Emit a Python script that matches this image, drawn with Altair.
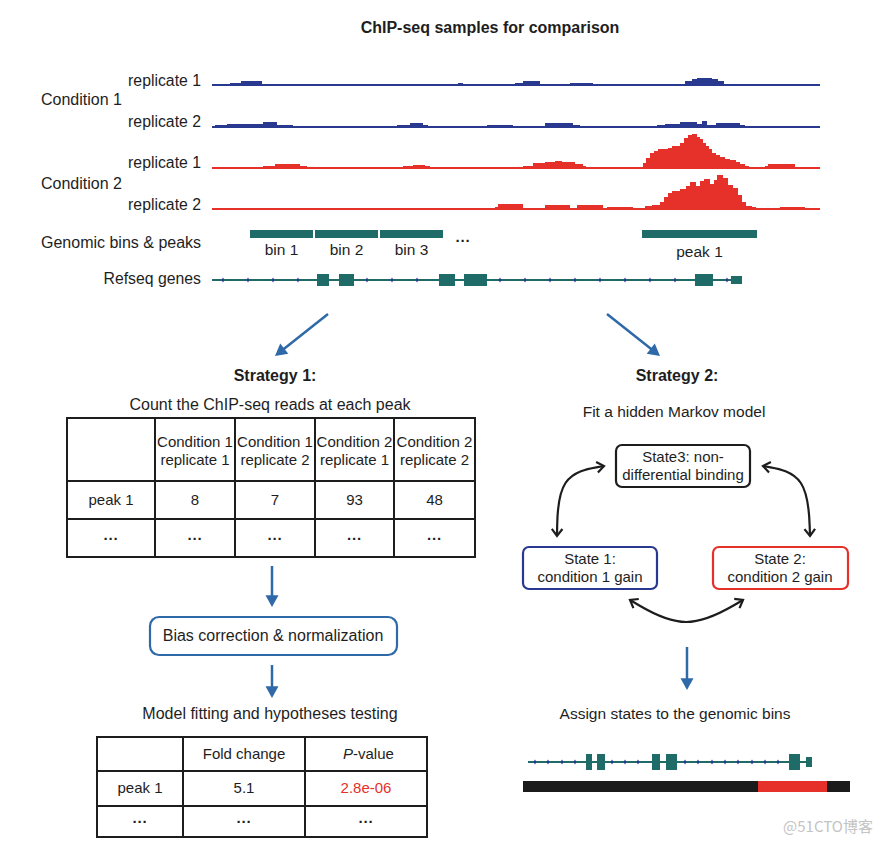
import math
import altair as alt
import pandas as pd

# ----------------------------- data -----------------------------
title_text = "ChIP-seq samples for comparison"
track_labels = ["replicate 1", "replicate 2", "replicate 1", "replicate 2"]
condition_labels = ["Condition 1", "Condition 2"]

# coverage steps: (start, end, height) along the genome (pixel-like units)
cov_c1_r1 = [(230, 241, 1), (241, 262, 3), (458, 463, 1), (515, 523, 1), (523, 540, 3),
             (570, 593, 1), (685, 692, 3), (692, 697, 5), (697, 712, 6), (712, 718, 5),
             (718, 724, 3)]
cov_c1_r2 = [(215, 227, 1), (227, 263, 2), (263, 277, 4), (277, 293, 1), (397, 410, 1),
             (410, 423, 3), (423, 428, 1), (487, 513, 1), (545, 573, 3), (573, 580, 1),
             (657, 665, 1), (665, 680, 2), (680, 697, 4), (697, 702, 2), (702, 707, 5),
             (707, 716, 1), (716, 740, 3), (740, 745, 1)]
cov_c2_r1 = [(263, 275, 1), (275, 300, 3), (300, 307, 1), (403, 413, 1), (413, 425, 2),
             (425, 430, 1), (523, 533, 1), (533, 545, 4), (545, 555, 5), (555, 562, 6),
             (562, 575, 5), (575, 583, 3), (583, 586, 1),
             (643, 646, 4), (646, 650, 9), (650, 654, 14), (654, 658, 16), (658, 668, 18),
             (668, 672, 19), (672, 680, 21), (680, 684, 24), (684, 688, 29), (688, 692, 32),
             (692, 697, 33), (697, 700, 30), (700, 703, 28), (703, 706, 24), (706, 709, 21),
             (709, 712, 18), (712, 716, 14), (716, 720, 12), (720, 725, 10), (725, 730, 8),
             (730, 736, 7), (736, 740, 5), (740, 745, 3), (745, 749, 1), (765, 768, 1),
             (768, 795, 3)]
cov_c2_r2 = [(495, 498, 1), (498, 523, 4), (545, 570, 3), (577, 603, 3), (607, 633, 1),
             (645, 652, 2), (652, 660, 3), (660, 664, 6), (664, 668, 11), (668, 672, 15),
             (672, 680, 17), (680, 686, 19), (686, 690, 22), (690, 696, 26), (696, 700, 22),
             (700, 704, 27), (704, 710, 29), (710, 714, 24), (714, 717, 28), (717, 723, 33),
             (723, 728, 30), (728, 733, 23), (733, 738, 20), (738, 742, 13), (742, 746, 6),
             (746, 752, 2), (752, 756, 1), (780, 805, 1)]
coverage = [cov_c1_r1, cov_c1_r2, cov_c2_r1, cov_c2_r2]

bin_labels = ["bin 1", "bin 2", "bin 3"]
bin_start = [250, 315, 380]
bin_end = [313, 378, 443]
peak_label = "peak 1"
peak_start, peak_end = 642, 757

gene_exon_start = [317, 339, 439, 464, 695]
gene_exon_end = [329, 354, 455, 487, 713]
gene_tick = [223, 248, 273, 298, 367, 392, 417, 500, 525, 550, 575, 600, 625, 650, 675, 727]
gene_from, gene_to = 212, 742
gene_utr = (731, 742)

count_columns = ["Condition 1\nreplicate 1", "Condition 1\nreplicate 2",
                 "Condition 2\nreplicate 1", "Condition 2\nreplicate 2"]
count_row_label = "peak 1"
count_values = [8, 7, 93, 48]

test_columns = ["Fold change", "P-value"]
fold_change = "5.1"
p_value = "2.8e-06"

hmm_states = ["State3: non-\ndifferential binding", "State 1:\ncondition 1 gain",
              "State 2:\ncondition 2 gain"]

state_gene_exon_start = [586, 597, 652, 666, 789]
state_gene_exon_end = [592, 605, 660, 677, 800]
state_gene_tick = [535, 548, 562, 575, 612, 625, 638, 685, 698, 712, 725, 738, 752, 765, 778]
state_gene_from, state_gene_to = 528, 812
state_seg_start = [523, 758, 827]
state_seg_end = [758, 827, 850]
state_seg_state = ["other", "gain2", "other"]

ELL = "\u00b7\u00b7\u00b7"

# ----------------------------- style -----------------------------
NAVY = "#2a3990"
RED = "#e6302a"
TEAL = "#1e6b67"
BLUE = "#2f69a8"
BLACK = "#1d1d1d"
TXT = "#1e1e1e"
FONT = "Liberation Sans"

W, H = 871, 830
XS = alt.Scale(domain=[8, 8 + W], nice=False, zero=False)
YS = alt.Scale(domain=[8, 8 + H], nice=False, zero=False, reverse=True)


def ex(f="x"):
    return alt.X(f"{f}:Q", scale=XS, axis=None)


def ey(f="y"):
    return alt.Y(f"{f}:Q", scale=YS, axis=None)


rects, rules, texts = [], [], []


def rect(x, x2, y, y2, c):
    rects.append(dict(x=x, x2=x2, y=y, y2=y2, c=c))


def rule(x, y, x2, y2, c, w):
    rules.append(dict(x=x, y=y, x2=x2, y2=y2, c=c, w=w))


# --- tracks ---
bases = [85, 127, 168, 209]
colors = [NAVY, NAVY, RED, RED]
for base, col, cov in zip(bases, colors, coverage):
    rule(212, base, 820, base, col, 2)
    for s, e, h in cov:
        rect(s, e, base - 1 - h, base, col)

for s, e in zip(bin_start, bin_end):
    rect(s, e, 230, 238, TEAL)
rect(peak_start, peak_end, 230, 238, TEAL)

# gene model top
rule(gene_from, 280, gene_to, 280, TEAL, 2)
for s, e in zip(gene_exon_start, gene_exon_end):
    rect(s, e, 274, 286, TEAL)
rect(gene_utr[0], gene_utr[1], 276, 284, TEAL)

# gene model bottom + states
rule(state_gene_from, 762, state_gene_to, 762, TEAL, 2)
for s, e in zip(state_gene_exon_start, state_gene_exon_end):
    rect(s, e, 754, 770, TEAL)
rect(806, 812, 757, 767, TEAL)
for s, e, st in zip(state_seg_start, state_seg_end, state_seg_state):
    rect(s, e, 781, 792, RED if st == "gain2" else "#1b1b1b")

# --- table 1 ---
t1x = [67, 155, 235, 315, 394, 475]
t1y = [418, 481, 519, 557]
for xv in t1x:
    rule(xv, t1y[0], xv, t1y[-1], BLACK, 2)
for yv in t1y:
    rule(t1x[0] - 1, yv, t1x[-1] + 1, yv, BLACK, 2)
t1c = [(t1x[i] + t1x[i + 1]) / 2 for i in range(5)]
tbl_txt = []
for i, col in enumerate(count_columns):
    l1, l2 = col.split("\n")
    tbl_txt.append(dict(t=l1, x=t1c[i + 1], y=442))
    tbl_txt.append(dict(t=l2, x=t1c[i + 1], y=460))
tbl_txt.append(dict(t=count_row_label, x=t1c[0], y=500))
for i, v in enumerate(count_values):
    tbl_txt.append(dict(t=str(v), x=t1c[i + 1], y=500))

# --- table 2 ---
t2x = [97, 183, 305, 427]
t2y = [737, 771, 806, 837]
for xv in t2x:
    rule(xv, t2y[0], xv, t2y[-1], BLACK, 2)
for yv in t2y:
    rule(t2x[0] - 1, yv, t2x[-1] + 1, yv, BLACK, 2)
t2c = [(t2x[i] + t2x[i + 1]) / 2 for i in range(3)]
tbl_txt.append(dict(t=test_columns[0], x=t2c[1], y=754))
tbl_txt.append(dict(t=count_row_label, x=t2c[0], y=788))
tbl_txt.append(dict(t=fold_change, x=t2c[1], y=788))

ell_txt = [dict(t=ELL, x=c, y=539) for c in t1c] + [dict(t=ELL, x=c, y=822) for c in t2c]
ell_txt.append(dict(t=ELL, x=463, y=241))

# --- blue arrows ---
arrows = [((328, 314), (275, 356)), ((607, 314), (660, 356)),
          ((272, 566), (272, 607)), ((272, 665), (272, 698)), ((687, 647), (687, 690))]
tri = []
for (x0, y0), (x1, y1) in arrows:
    dx, dy = x1 - x0, y1 - y0
    L = math.hypot(dx, dy)
    ux, uy = dx / L, dy / L
    rule(x0, y0, x1 - 8 * ux, y1 - 8 * uy, BLUE, 2.5)
    tri.append(dict(x=x1, y=y1, a=math.degrees(math.atan2(dx, -dy)) % 360))

# --- curved double arrows ---
arcs = {"L": [(557, 536), (558, 474), (604, 466)],
        "R": [(763, 466), (808, 474), (810, 536)],
        "B": [(630, 600), (686, 633), (743, 600)]}
arc_rows, chev = [], []
for k, pts in arcs.items():
    for i, (px, py) in enumerate(pts):
        arc_rows.append(dict(k=k, o=i, x=px, y=py))
    (ax, ay), (bx, by), (cx, cy) = pts
    chev.append(dict(x=ax, y=ay, a=math.degrees(math.atan2(ax - bx, -(ay - by))) % 360))
    chev.append(dict(x=cx, y=cy, a=math.degrees(math.atan2(cx - bx, -(cy - by))) % 360))

ticks = [dict(x=t, y=280) for t in gene_tick] + [dict(x=t, y=762) for t in state_gene_tick]

# --- boxes ---
bias_box = [dict(x=150, x2=397, y=617, y2=655, c=BLUE)]
state_boxes = [dict(x=616, x2=750, y=445, y2=487, c=BLACK),
               dict(x=523, x2=657, y=547, y2=589, c=NAVY),
               dict(x=713, x2=848, y=547, y2=589, c=RED)]
state_txt = []
for (cxs, cys), lab in zip([(683, 457), (590, 559), (780, 559)], hmm_states):
    l1, l2 = lab.split("\n")
    state_txt.append(dict(t=l1, x=cxs, y=cys))
    state_txt.append(dict(t=l2, x=cxs, y=cys + 18))

# ----------------------------- layers -----------------------------
layers = []
layers.append(alt.Chart(pd.DataFrame(rects)).mark_rect().encode(
    x=ex(), x2=alt.X2("x2"), y=ey(), y2=alt.Y2("y2"), color=alt.Color("c:N", scale=None)))
layers.append(alt.Chart(pd.DataFrame(rules)).mark_rule().encode(
    x=ex(), x2=alt.X2("x2"), y=ey(), y2=alt.Y2("y2"), color=alt.Color("c:N", scale=None),
    strokeWidth=alt.StrokeWidth("w:Q", scale=None)))
layers.append(alt.Chart(pd.DataFrame(bias_box)).mark_rect(
    cornerRadius=9, fill="white", strokeWidth=2.2).encode(
    x=ex(), x2=alt.X2("x2"), y=ey(), y2=alt.Y2("y2"), stroke=alt.Stroke("c:N", scale=None)))
layers.append(alt.Chart(pd.DataFrame(state_boxes)).mark_rect(
    cornerRadius=6, fill="white", strokeWidth=2.2).encode(
    x=ex(), x2=alt.X2("x2"), y=ey(), y2=alt.Y2("y2"), stroke=alt.Stroke("c:N", scale=None)))
layers.append(alt.Chart(pd.DataFrame(arc_rows)).mark_line(
    interpolate="basis", strokeWidth=2.2, color=BLACK).encode(
    x=ex(), y=ey(), detail="k:N", order="o:Q"))
layers.append(alt.Chart(pd.DataFrame(chev)).mark_point(
    shape="M-0.75,1L0,0L0.75,1", filled=False, size=200, strokeWidth=2.2, color=BLACK,
    opacity=1).encode(x=ex(), y=ey(), angle=alt.Angle("a:Q", scale=None)))
layers.append(alt.Chart(pd.DataFrame(tri)).mark_point(
    shape="M0,0L0.55,1L-0.55,1Z", filled=True, size=560, color=BLUE, opacity=1).encode(
    x=ex(), y=ey(), angle=alt.Angle("a:Q", scale=None)))
layers.append(alt.Chart(pd.DataFrame(ticks)).mark_point(
    shape="M0,-1L0.6,0L0,1L-0.6,0Z", filled=True, size=25, color=NAVY, opacity=1).encode(
    x=ex(), y=ey()))


def text_layer(rows, align="center", size=15.5, weight="normal", style="normal", color=TXT,
               font=FONT):
    return alt.Chart(pd.DataFrame(rows)).mark_text(
        align=align, baseline="middle", fontSize=size, fontWeight=weight, fontStyle=style,
        color=color, font=font).encode(x=ex(), y=ey(), text="t:N")


layers.append(text_layer([dict(t=title_text, x=490, y=28)], size=16, weight="bold"))
layers.append(text_layer([dict(t="Strategy 1:", x=275, y=376), dict(t="Strategy 2:", x=677, y=376)],
                         size=16, weight="bold"))
layers.append(text_layer([dict(t=l, x=201, y=yv) for l, yv in zip(track_labels, [81, 122, 163, 205])]
                         + [dict(t="Refseq genes", x=201, y=279)], align="right", size=15.8))
layers.append(text_layer([dict(t=condition_labels[0], x=41, y=100),
                          dict(t=condition_labels[1], x=41, y=184),
                          dict(t="Genomic bins & peaks", x=41, y=243)], align="left", size=16))
layers.append(text_layer(
    [dict(t=l, x=(s + e) / 2, y=250) for l, s, e in zip(bin_labels, bin_start, bin_end)]
    + [dict(t=peak_label, x=(peak_start + peak_end) / 2, y=252),
       dict(t="Fit a hidden Markov model", x=674, y=412),
       dict(t="Assign states to the genomic bins", x=675, y=714)]))
layers.append(text_layer(
    [dict(t="Count the ChIP-seq reads at each peak", x=270, y=405),
     dict(t="Model fitting and hypotheses testing", x=270, y=714),
     dict(t="Bias correction & normalization", x=273, y=636)], size=16))
layers.append(text_layer(tbl_txt, size=15))
layers.append(text_layer(state_txt, size=15))
layers.append(text_layer(ell_txt, size=15, weight="bold"))
layers.append(text_layer([dict(t="P", x=343, y=754)], align="left", size=15, style="italic"))
layers.append(text_layer([dict(t="-value", x=353, y=754)], align="left", size=15))
layers.append(text_layer([dict(t=p_value, x=t2c[2], y=788)], size=15, color=RED))
layers.append(text_layer([dict(t="@51CTO博客", x=828, y=827)], size=15, color="#c4c4c4",
                         font="Noto Sans CJK SC"))

chart = alt.layer(*layers).properties(
    width=W, height=H, padding=0, autosize=alt.AutoSizeParams(type="none"),
).configure_view(stroke=None)

chart.save("out.html", embed_options={"renderer": "svg", "actions": False})
